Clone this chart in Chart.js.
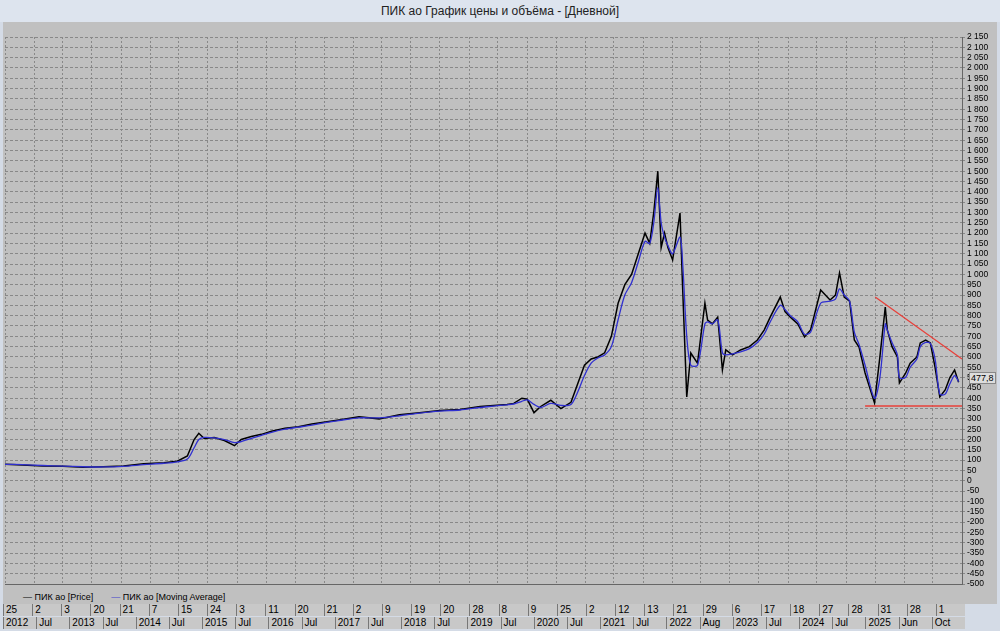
<!DOCTYPE html>
<html><head><meta charset="utf-8">
<script src="https://cdn.jsdelivr.net/npm/chart.js@4"></script>
<style>
body{margin:0;width:1000px;height:631px;background:#d4dbe6;font-family:"Liberation Sans",Arial,sans-serif;overflow:hidden;position:relative}
#title{position:absolute;left:0;top:0;width:1000px;height:22px;background:#dde4ee;font-size:12px;text-align:center;line-height:22px;color:#222}
#wrap{position:absolute;left:3px;top:22px;width:994px;height:570px;background:#c0c0c0}
#legend{position:absolute;left:3px;top:590px;width:994px;height:14px;background:#c0c0c0;font-size:9px;line-height:14px}
#dates{position:absolute;left:3px;top:604px;width:962px;height:26px;font-size:10px}
.c{position:absolute;height:12px;border-left:1px solid #777;padding-left:2px;line-height:12px;background:#c8c8c8}
#val{position:absolute;left:969px;top:372px;font-size:9px;background:#ddd;border:1px solid #888;padding:0 1px}
</style></head><body>
<div id="title">ПИК ао График цены и объёма - [Дневной]</div>
<div id="wrap"><canvas id="c" width="994" height="570"></canvas></div>
<div id="legend"><span style="margin-left:20px">— ПИК ао [Price]</span><span style="margin-left:18px;color:#000"><span style="color:#44c">—</span> ПИК ао [Moving Average]</span></div>
<div id="dates"></div>
<div id="val">477,8</div>
<script>
const years=[2012.04,2012.3,2012.6,2012.9,2013.2,2013.5,2013.8,2014.1,2014.4,2014.6,2014.75,2014.85,2014.92,2015.0,2015.15,2015.3,2015.45,2015.55,2015.7,2015.85,2016.0,2016.2,2016.4,2016.6,2016.8,2017.0,2017.3,2017.6,2017.9,2018.2,2018.5,2018.8,2019.1,2019.3,2019.5,2019.6,2019.72,2019.8,2019.9,2020.0,2020.15,2020.3,2020.45,2020.55,2020.65,2020.75,2020.85,2020.95,2021.05,2021.15,2021.25,2021.35,2021.45,2021.55,2021.62,2021.68,
2021.74,2021.79,2021.84,2021.89,2021.96,2022.07,2022.11,2022.17,2022.23,2022.33,2022.44,2022.48,2022.55,2022.63,2022.70,2022.75,2022.85,2022.97,2023.1,2023.22,2023.32,2023.41,2023.56,2023.63,2023.71,2023.82,2023.92,2024.01,2024.16,2024.30,2024.38,2024.44,2024.51,2024.59,2024.66,2024.73,2024.82,2024.96,2025.04,2025.12,2025.15,2025.22,2025.30,2025.33,2025.42,2025.49,2025.59,2025.64,2025.72,2025.79,2025.86,2025.93,2026.01,2026.08,2026.15,2026.21,2026.26];
const price=[80,76,72,70,66,68,72,82,88,95,120,200,230,205,210,195,170,200,215,225,240,255,262,275,285,295,310,300,320,330,340,345,360,365,370,375,400,395,330,360,390,350,380,470,560,590,600,620,700,860,950,1000,1100,1200,1150,1300,
1500,1130,1200,1130,1070,1297,924,406,619,570,861,779,760,793,537,634,610,634,650,682,730,793,890,820,793,760,697,731,924,876,900,1007,890,870,682,648,522,377,600,842,731,650,600,474,520,570,600,668,682,668,550,406,440,500,537,477];
const ma=[80,78,74,71,68,67,70,78,85,92,105,160,200,210,208,200,185,190,205,220,235,250,260,270,282,292,305,305,315,328,338,343,355,362,368,372,385,392,370,355,375,365,370,430,510,570,595,610,650,780,900,960,1060,1160,1150,1250,
1420,1250,1180,1140,1100,1180,1050,700,560,560,760,770,760,780,620,610,615,625,640,670,710,770,850,830,800,770,710,720,860,870,880,930,900,870,720,660,560,400,500,760,730,670,610,500,500,550,590,650,670,665,590,420,420,470,510,480];
const upperX=[2024.97,2026.26], upperY=[890,590];
const lowerX=[2024.82,2026.26], lowerY=[362,362];
const topDates=['25','2','3','20','21','7','15','24','3','11','20','21','2','9','19','20','28','8','9','25','2','12','13','21','29','6','17','18','27','28','31','28','1'];
const botDates=[['2012',0],['Jul',2],['2013',4],['Jul',6],['2014',8],['Jul',10],['2015',12],['Jul',14],['2016',16],['Jul',18],['2017',20],['Jul',22],['2018',24],['Jul',26],['2019',28],['Jul',30],['2020',32],['Jul',34],['2021',36],['Jul',38],['2022',40],['Aug',42],['2023',44],['Jul',46],['2024',48],['Jul',50],['2025',52],['Jun',54],['Oct',56]];
const d=document.getElementById('dates');
const w=962/topDates.length;
topDates.forEach((s,i)=>{const e=document.createElement('div');e.className='c';e.style.left=(i*w)+'px';e.style.top='0px';e.style.width=(w-3)+'px';e.textContent=s;d.appendChild(e);});
botDates.forEach(([s,k],i)=>{const nx=i+1<botDates.length?botDates[i+1][1]:58;const e=document.createElement('div');e.className='c';e.style.left=(k*962/58)+'px';e.style.top='13px';e.style.width=((nx-k)*962/58-3)+'px';e.textContent=s;d.appendChild(e);});
const pts=(xs,ys)=>xs.map((x,i)=>({x,y:ys[i]}));
const XMIN=2012.04,XMAX=2026.26;
new Chart(document.getElementById('c'),{type:'line',
data:{datasets:[
{data:pts(upperX,upperY),borderColor:'#e8403a',borderWidth:1.3,pointRadius:0,order:0},
{data:pts(lowerX,lowerY),borderColor:'#e8403a',borderWidth:1.5,pointRadius:0,order:0},
{data:pts(years,ma),borderColor:'#3030d0',borderWidth:1.3,pointRadius:0,tension:0.3,order:1},
{data:pts(years,price),borderColor:'#000',borderWidth:1.5,pointRadius:0,tension:0,order:2}]},
options:{animation:false,responsive:false,plugins:{legend:{display:false},tooltip:{enabled:false}},
layout:{padding:{left:2,top:15,bottom:8,right:0}},
scales:{x:{type:'linear',min:XMIN,max:XMAX,ticks:{display:false,stepSize:(XMAX-XMIN)/33},grid:{color:'#888',tickLength:0},border:{dash:[2,2],color:'#666'}},
y:{position:'right',min:-500,max:2150,afterFit:function(a){a.width=35;},
ticks:{stepSize:50,autoSkip:false,font:{size:8.5,family:'Liberation Sans'},color:'#000',padding:2,callback:v=>v.toLocaleString('ru-RU').replace(/\u00a0/g,' ')},
grid:{color:'#888',tickLength:3},border:{dash:[3,2],color:'#666'}}}}});
</script></body></html>
